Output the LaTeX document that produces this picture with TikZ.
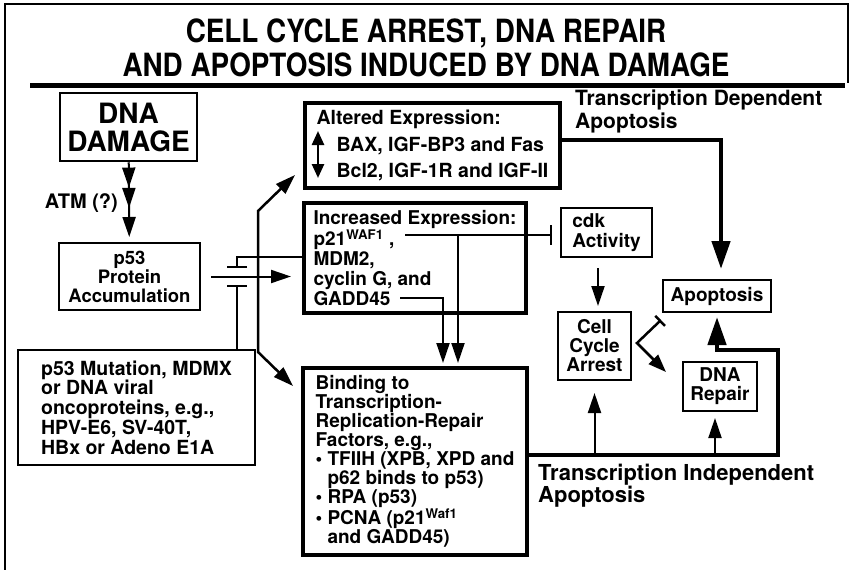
\documentclass[tikz,border=0pt]{standalone}
\usepackage{fontspec}
\setmainfont{TeX Gyre Heros}
\newfontfamily\headfont[FakeStretch=0.87]{TeX Gyre Heros}
\usetikzlibrary{arrows.meta,decorations.markings}

\begin{document}
\begin{tikzpicture}[
  x=1pt,y=-1pt,
  >={Triangle[length=20pt,width=13pt]},
  box/.style={draw=black,line width=2pt,inner sep=0pt,align=center,font=\fontsize{19}{19}\selectfont\bfseries},
  heavy/.style={box,line width=4pt},
  arc/.style={->,line width=2pt},
  fat/.style={-{Triangle[length=28pt,width=18pt]},line width=4.5pt},
  blunt/.style={-{Bar[width=20pt]},line width=2pt},
  lab/.style={inner sep=0pt,align=left,font=\fontsize{21}{23}\selectfont\bfseries},
  head/.style={inner sep=0pt,align=center,font=\headfont\fontsize{32}{34}\selectfont\bfseries},
]
\useasboundingbox (0,0) rectangle (851,570);
\draw[line width=2.5pt] (5,570) -- (5,4) -- (848,4) -- (848,83);
\node[head] (title) at (426,47.5) {CELL CYCLE ARREST, DNA REPAIR\\AND APOPTOSIS INDUCED BY DNA DAMAGE};
\draw[line width=5pt] (30,85) -- (845,85);
\node[box,line width=2.5pt,minimum width=137pt,minimum height=68pt,font=\fontsize{28}{28}\selectfont\bfseries] (dna) at (128.5,127) {DNA\\DAMAGE};
\node[box,minimum width=141pt,minimum height=67pt,font=\fontsize{18.5}{19}\selectfont\bfseries] (p53) at (129.5,276.5) {p53\\Protein\\Accumulation};
\node[box,align=left,minimum width=237pt,minimum height=115pt,font=\fontsize{19.5}{19.7}\selectfont\bfseries] (mut) at (136.5,407.5) {p53 Mutation, MDMX\\or DNA viral\\oncoproteins, e.g.,\\HPV-E6, SV-40T,\\HBx or Adeno E1A};
\node[lab,anchor=base east,font=\fontsize{20}{20}\selectfont\bfseries] (atm) at (118,208) {ATM (?)};
\node[heavy,align=left,minimum width=255pt,minimum height=85pt,font=\fontsize{19.5}{26.5}\selectfont\bfseries] (alt) at (432.5,145.5) {Altered Expression:\\\hspace*{20pt}BAX, IGF-BP3 and Fas\\\hspace*{20pt}Bcl2, IGF-1R and IGF-II};
\coordinate (altup) at (318,131); \coordinate (altdn) at (318,178);
\draw[{Triangle[length=14pt,width=12pt]}-{Triangle[length=14pt,width=12pt]},line width=2.5pt] (altup) -- (altdn);
\node[heavy,align=left,minimum width=222pt,minimum height=110pt,font=\fontsize{19}{20}\selectfont\bfseries] (inc) at (415,258) {Increased Expression:\\p21\textsuperscript{WAF1} ,\\MDM2,\\cyclin G, and\\GADD45};
\node[heavy,align=left,minimum width=224pt,minimum height=187pt] (bind) at (415,461.5) {Binding to\\Transcription-\\Replication-Repair\\Factors, e.g.,\\\textbullet\ TFIIH (XPB, XPD and\\\phantom{\textbullet\ }p62 binds to p53)\\\textbullet\ RPA (p53)\\\textbullet\ PCNA (p21\textsuperscript{Waf1}\\\phantom{\textbullet\ }and GADD45)};
\node[box,align=left,minimum width=91pt,minimum height=49pt,font=\fontsize{19}{20}\selectfont\bfseries] (cdk) at (606.5,232.5) {cdk\\Activity};
\node[box,minimum width=73pt,minimum height=68pt] (cca) at (594.5,346) {Cell\\Cycle\\Arrest};
\node[box,minimum width=108pt,minimum height=32pt] (apo) at (717,296) {Apoptosis};
\node[box,minimum width=74pt,minimum height=49pt] (rep) at (720,386.5) {DNA\\Repair};
\node[lab,anchor=north west] (tdep) at (575,90) {Transcription Dependent\\Apoptosis};
\node[lab,anchor=north west,font=\fontsize{22}{22}\selectfont\bfseries] (tind) at (538,464) {Transcription Independent\\Apoptosis};
\draw[arc,shorten >=5pt,postaction={decorate},decoration={markings,mark=at position 0.317 with {\arrow{>}},mark=at position 0.573 with {\arrow{>}}}] (dna) -- (p53);
\draw[arc,shorten <=10pt,shorten >=11pt] (p53.east) -- (p53.east -| inc.west);
\coordinate (mdm) at (304,257);
\coordinate (barhi) at (237,268); \coordinate (barlo) at (237,285);
\draw[blunt] (mdm) -| (barhi);
\draw[blunt] (mut.north -| barlo) -- (barlo);
\coordinate (splitup) at (258,211); \coordinate (splitdn) at (258,352);
\coordinate (toalt) at (295,175); \coordinate (tobind) at (293,386);
\draw[<->,line width=2.5pt] (toalt) -- (splitup) -- (splitdn) -- (tobind);
\coordinate (p21) at (405,235); \coordinate (p21dn) at (458,235);
\coordinate (gadd) at (400,298);
\draw[blunt,shorten >=8pt] (p21) -- (p21 -| cdk.west);
\draw[arc,shorten >=3pt] (p21dn) -- ([xshift=43pt]bind.north);
\draw[arc,shorten >=3pt] (gadd) -| ([xshift=28pt]bind.north);
\draw[arc,shorten <=10pt,shorten >=5pt] ([xshift=-8.5pt]cdk.south) -- ([xshift=3.5pt]cca.north);
\draw[fat,shorten >=10pt] ([yshift=5.5pt]alt.east) -| ([xshift=4pt]apo.north);
\coordinate (busr) at (778,455); \coordinate (busu) at (778,350);
\draw[fat,shorten >=4pt] ([yshift=6.5pt]bind.east) -- (busr) -- (busu) -| (apo.south);
\coordinate (repin) at ([xshift=-5pt]rep.south);
\draw[arc,shorten >=12pt] (cca.south |- busr) -- (cca.south);
\draw[arc,shorten >=6pt] (repin |- busr) -- (repin);
\coordinate (ccv) at (637,343); \coordinate (ccbar) at (661,320); \coordinate (ccrep) at (666,372);
\draw[{Bar[width=14pt]}-{Triangle[length=18pt,width=13pt]},line width=2.5pt] (ccbar) -- (ccv) -- (ccrep);
\end{tikzpicture}
\end{document}
